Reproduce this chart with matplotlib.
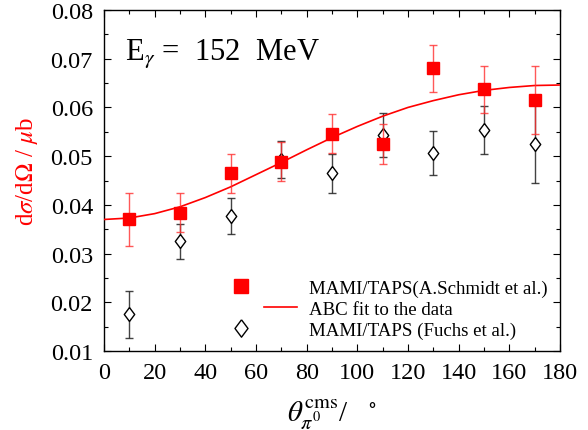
import numpy as np
import matplotlib
matplotlib.use("Agg")
import matplotlib.pyplot as plt
from matplotlib.lines import Line2D
from matplotlib.legend_handler import HandlerLine2D
from matplotlib.ticker import MultipleLocator

plt.rcParams['font.family'] = ['Liberation Serif', 'DejaVu Serif']
plt.rcParams['mathtext.fontset'] = 'stix'

# data
angles = [10, 30, 50, 70, 90, 110, 130, 150, 170]
schmidt_y = [0.0370, 0.0384, 0.0465, 0.0489, 0.0546, 0.0525, 0.0680, 0.0637, 0.0616]
schmidt_err = [0.0055, 0.0040, 0.0040, 0.0040, 0.0040, 0.0041, 0.0049, 0.0048, 0.0070]
fuchs_y = [0.0175, 0.0325, 0.0377, 0.0493, 0.0465, 0.0544, 0.0506, 0.0553, 0.0525]
fuchs_err = [0.0049, 0.0036, 0.0037, 0.0038, 0.0040, 0.0045, 0.0045, 0.0049, 0.0081]
fit_angles = [0, 10, 20, 30, 40, 50, 60, 70, 80, 90, 100, 110, 120, 130, 140, 150, 160, 170, 180]
fit_y = [0.0370, 0.0373, 0.0382, 0.0396, 0.0415, 0.0437, 0.0462, 0.0487, 0.0513, 0.0538,
         0.0561, 0.0582, 0.0600, 0.0614, 0.0626, 0.0635, 0.0641, 0.0645, 0.0646]
labels = ['MAMI/TAPS(A.Schmidt et al.)', 'ABC fit to the data', 'MAMI/TAPS (Fuchs et al.)']

fig = plt.figure(figsize=(5.88, 4.31), dpi=100)
ax = fig.add_axes([104/588, 1-352/431, (560-104)/588, (352-11)/431])

diamond = [(0, 1), (0.75, 0), (0, -1), (-0.75, 0), (0, 1)]

ax.errorbar(angles, fuchs_y, yerr=fuchs_err, fmt='none', ecolor='#222222', elinewidth=1.0,
            capsize=2.8, capthick=1.0, alpha=0.85, zorder=2)
ax.plot(angles, fuchs_y, linestyle='none', marker=diamond, markersize=10, markerfacecolor='white',
        markeredgecolor='black', markeredgewidth=1.0, zorder=3)
fit, = ax.plot(fit_angles, fit_y, color='red', linewidth=1.2, zorder=4)
ax.errorbar(angles, schmidt_y, yerr=schmidt_err, fmt='none', ecolor='#ff3030', elinewidth=1.0,
            capsize=2.8, capthick=1.0, alpha=0.8, zorder=5)
ax.plot(angles, schmidt_y, linestyle='none', marker='s', markersize=8.5, color='red', zorder=6)

ax.set_xlim(0, 180)
ax.set_ylim(0.01, 0.08)
ax.xaxis.set_major_locator(MultipleLocator(20))
ax.xaxis.set_minor_locator(MultipleLocator(10))
ax.yaxis.set_major_locator(MultipleLocator(0.01))
ax.yaxis.set_minor_locator(MultipleLocator(0.005))
ax.set_yticks(ax.get_yticks())
ax.set_yticklabels([f'{v:.2f}' for v in ax.get_yticks()])
ax.set_ylim(0.01, 0.08)
ax.tick_params(which='both', direction='in', top=True, right=True, labelsize=17.5, pad=8)
ax.tick_params(which='major', length=5, width=0.8)
ax.tick_params(which='minor', length=3, width=0.8)
for s in ax.spines.values():
    s.set_linewidth(1.0)

ax.set_ylabel(r'd$\sigma$/d$\Omega$ / $\mu$b', color='red', fontsize=18)
ax.yaxis.set_label_coords(-0.14, 0.53)
ax.set_xlabel(r'$\theta^{\rm cms}_{\pi^0}$/   $^{\circ}$', fontsize=21)
ax.xaxis.set_label_coords(0.5, -0.135)

ax.text(0.045, 0.925, r'E$_\gamma$ =  152  MeV', transform=ax.transAxes, fontsize=22, va='top', ha='left')


class LeftMarker(HandlerLine2D):
    def get_xdata(self, legend, xdescent, ydescent, width, height, fontsize):
        x = -xdescent + 0.28 * width
        return np.array([x, x]), np.array([x])


class RightLine(HandlerLine2D):
    def get_xdata(self, legend, xdescent, ydescent, width, height, fontsize):
        return (np.array([-xdescent + 0.57 * width, -xdescent + 0.99 * width]),
                np.array([-xdescent + 0.78 * width]))


sc_proxy = Line2D([], [], linestyle='none', marker='s', markersize=9.5, color='red')
fu_proxy = Line2D([], [], linestyle='none', marker=diamond, markersize=12.5, markerfacecolor='white',
                  markeredgecolor='black', markeredgewidth=1.0)

leg = ax.legend([sc_proxy, fit, fu_proxy], labels, loc='lower right', bbox_to_anchor=(1.0, 0.0),
                frameon=False, fontsize=13.6, handlelength=4.2, handletextpad=0.6,
                labelspacing=0.2, borderaxespad=0.25, numpoints=1,
                handler_map={sc_proxy: LeftMarker(), fu_proxy: LeftMarker(), fit: RightLine()})

fig.savefig('out.png', dpi=100)
